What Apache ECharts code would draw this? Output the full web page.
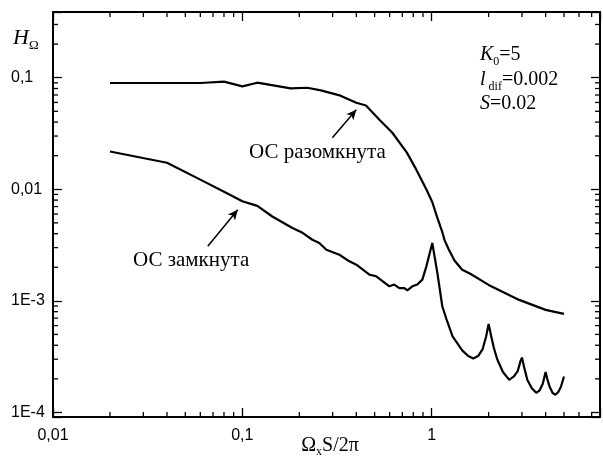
<!DOCTYPE html>
<html>
<head>
<meta charset="utf-8">
<script src="https://cdn.jsdelivr.net/npm/echarts@6/dist/echarts.min.js"></script>
<style>
html, body { margin: 0; padding: 0; background: #fff; }
#chart { width: 603px; height: 461px; }
</style>
</head>
<body>
<div id="chart"></div>
<script>
var xMin = 0.01, xMax = 7.75, yMin = 9.1e-5, yMax = 0.388;
var xTickValues = [0.01, 0.1, 1];
var xTickLabels = ['0,01', '0,1', '1'];
var yTickValues = [1e-4, 1e-3, 0.01, 0.1];
var yTickLabels = ['1E-4', '1E-3', '0,01', '0,1'];
var xMinorTicks = [0.02, 0.03, 0.04, 0.05, 0.06, 0.07, 0.08, 0.09,
	0.2, 0.3, 0.4, 0.5, 0.6, 0.7, 0.8, 0.9, 2, 3, 4, 5, 6, 7];
var yMinorTicks = [2e-4, 3e-4, 4e-4, 5e-4, 6e-4, 7e-4, 8e-4, 9e-4,
	0.002, 0.003, 0.004, 0.005, 0.006, 0.007, 0.008, 0.009,
	0.02, 0.03, 0.04, 0.05, 0.06, 0.07, 0.08, 0.09, 0.2, 0.3];

// ОС разомкнута
var openX = [0.02, 0.04, 0.06, 0.08, 0.1, 0.12, 0.18, 0.22, 0.26, 0.33,
	0.40, 0.45, 0.53, 0.62, 0.74, 0.83, 0.94, 1.01, 1.07, 1.14,
	1.17, 1.23, 1.32, 1.45, 1.6, 2.0, 2.9, 4.0, 5.0];
var openY = [0.0896, 0.0896, 0.0896, 0.0921, 0.0835, 0.0902, 0.0802, 0.0813, 0.0769, 0.069,
	0.0597, 0.0564, 0.042, 0.0321, 0.0213, 0.015, 0.0099, 0.0076, 0.0056, 0.0041,
	0.0035, 0.0029, 0.0023, 0.0019, 0.00175, 0.00139, 0.00102, 0.00083, 0.000765];
// ОС замкнута
var closedX = [0.02, 0.04, 0.06, 0.082, 0.1, 0.12, 0.144, 0.184, 0.208, 0.2345,
	0.255, 0.278, 0.3256, 0.3677, 0.4003, 0.469, 0.51, 0.598, 0.635, 0.675,
	0.718, 0.744, 0.791, 0.84, 0.893, 0.938, 1.008, 1.072, 1.139, 1.2,
	1.29, 1.45, 1.56, 1.66, 1.76, 1.86, 1.94, 2.0, 2.06, 2.13,
	2.22, 2.38, 2.57, 2.72, 2.85, 2.95, 3.0, 3.07, 3.2, 3.38,
	3.57, 3.72, 3.86, 4.0, 4.08, 4.2, 4.35, 4.5, 4.66, 4.82, 5.0];
var closedY = [0.0218, 0.0173, 0.0122, 0.0093, 0.0078, 0.0071, 0.0057, 0.0045, 0.00407, 0.00353,
	0.0033, 0.00287, 0.00259, 0.00226, 0.00211, 0.00172, 0.00166, 0.00135, 0.0014, 0.0013,
	0.0013, 0.00124, 0.00135, 0.0014, 0.00155, 0.00204, 0.0033, 0.00178, 0.00089, 0.00068,
	0.00048, 0.00036, 0.00032, 0.000305, 0.00032, 0.00037, 0.00048, 0.00062, 0.00049, 0.00038,
	0.0003, 0.00023, 0.000196, 0.00021, 0.000235, 0.00029, 0.00031, 0.00026, 0.000196, 0.000165,
	0.00015, 0.000158, 0.00018, 0.00023, 0.0002, 0.00017, 0.00015, 0.000144, 0.000152, 0.00017, 0.00021];

// стрелки подписей
var arrowOpen = [[0.299, 0.029], [0.40, 0.0517]];
var arrowClosed = [[0.0657, 0.00308], [0.0946, 0.00656]];

var serif = 'Liberation Serif';
var sans = 'Liberation Sans';

function zip(xs, ys) {
	var out = [];
	for(var i = 0; i < xs.length; i++) {
		out.push([xs[i], ys[i]]);
	}
	return out;
}

function tickLabel(vals, labels) {
	return function(v) {
		for(var i = 0; i < vals.length; i++) {
			if(Math.abs(Math.log10(v) - Math.log10(vals[i])) < 1e-6) {
				return labels[i];
			}
		}
		return '';
	};
}

function logAxis(pos, min, max, showLabel, fmt, extra) {
	var a = {
		type: 'log',
		logBase: 10,
		position: pos,
		min: min,
		max: max,
		splitLine: { show: false },
		axisLine: { show: true, onZero: false, lineStyle: { color: '#000', width: 2 } },
		axisTick: { show: true, inside: true, length: 9, lineStyle: { color: '#000', width: 1.3 } },
		axisLabel: { show: showLabel, formatter: fmt, color: '#000', fontFamily: sans, fontSize: 16 }
	};
	if(extra) {
		a.axisLabel = Object.assign(a.axisLabel, extra);
	}
	return a;
}

function arrowLine(pts) {
	return {
		silent: true,
		symbol: ['none', 'arrow'],
		symbolSize: [7, 10],
		label: { show: false },
		lineStyle: { color: '#000', width: 1.5, type: 'solid' },
		data: [[{ coord: pts[0] }, { coord: pts[1] }]]
	};
}

function minorTickSeries(vals, isX) {
	return {
		type: 'custom',
		silent: true,
		xAxisIndex: 0,
		yAxisIndex: 0,
		data: vals.map(function(v) { return isX ? [v, yMin] : [xMin, v]; }),
		renderItem: function(params, api) {
			var v = api.value(isX ? 0 : 1);
			var p1, p2;
			var st = { stroke: '#000', lineWidth: 1.3 };
			if(isX) {
				p1 = api.coord([v, yMin]);
				p2 = api.coord([v, yMax]);
				return { type: 'group', children: [
					{ type: 'line', shape: { x1: p1[0], y1: p1[1], x2: p1[0], y2: p1[1] - 5 }, style: st },
					{ type: 'line', shape: { x1: p2[0], y1: p2[1], x2: p2[0], y2: p2[1] + 5 }, style: st }
				] };
			}
			p1 = api.coord([xMin, v]);
			p2 = api.coord([xMax, v]);
			return { type: 'group', children: [
				{ type: 'line', shape: { x1: p1[0], y1: p1[1], x2: p1[0] + 5, y2: p1[1] }, style: st },
				{ type: 'line', shape: { x1: p2[0], y1: p2[1], x2: p2[0] - 5, y2: p2[1] }, style: st }
			] };
		}
	};
}

function txt(x, y, text, rich, align) {
	return {
		type: 'text',
		x: x,
		y: y,
		silent: true,
		style: {
			text: text,
			rich: rich,
			fill: '#000',
			align: align || 'left',
			verticalAlign: 'middle'
		}
	};
}

var mainStyle = { fontFamily: serif, fontSize: 21, lineHeight: 24 };
var italStyle = { fontFamily: serif, fontSize: 20, fontStyle: 'italic', lineHeight: 26 };
var numStyle = { fontFamily: serif, fontSize: 20, lineHeight: 26 };
var subStyle = { fontFamily: serif, fontSize: 12, lineHeight: 6, verticalAlign: 'bottom' };

var chart = echarts.init(document.getElementById('chart'));
chart.setOption({
	animation: false,
	backgroundColor: '#fff',
	grid: { left: 53, right: 3, top: 12, bottom: 44 },
	xAxis: [
		logAxis('bottom', xMin, xMax, true, tickLabel(xTickValues, xTickLabels), { margin: 11 }),
		logAxis('top', xMin, xMax, false)
	],
	yAxis: [
		logAxis('left', yMin, yMax, true, tickLabel(yTickValues, yTickLabels), { margin: 42, align: 'left' }),
		logAxis('right', yMin, yMax, false)
	],
	series: [
		{
			type: 'line',
			data: zip(openX, openY),
			symbol: 'none',
			lineStyle: { color: '#000', width: 2.2 },
			itemStyle: { color: '#000' },
			markLine: arrowLine(arrowOpen)
		},
		{
			type: 'line',
			data: zip(closedX, closedY),
			symbol: 'none',
			lineStyle: { color: '#000', width: 2.2 },
			itemStyle: { color: '#000' },
			markLine: arrowLine(arrowClosed)
		},
		minorTickSeries(xMinorTicks, true),
		minorTickSeries(yMinorTicks, false)
	],
	graphic: [
		txt(249, 152, '{m|ОС разомкнута}', { m: mainStyle }),
		txt(133, 260, '{m|ОС замкнута}', { m: mainStyle }),
		txt(480, 55, '{i|K}{s|0}{n|=5}', { i: italStyle, s: subStyle, n: numStyle }),
		txt(480, 80, '{i|l}{s| dif}{n|=0.002}', { i: italStyle, s: subStyle, n: numStyle }),
		txt(480, 104, '{i|S}{n|=0.02}', { i: italStyle, n: numStyle }),
		txt(13, 38, '{i|H}{s|Ω}', {
			i: { fontFamily: serif, fontSize: 22, fontStyle: 'italic', lineHeight: 28 },
			s: { fontFamily: serif, fontSize: 13, lineHeight: 8, verticalAlign: 'bottom' }
		}),
		txt(330, 446, '{a|Ω}{s|x}{a|S/2π}', {
			a: { fontFamily: serif, fontSize: 20, lineHeight: 24 },
			s: { fontFamily: serif, fontSize: 12, lineHeight: 6, verticalAlign: 'bottom' }
		}, 'center')
	]
});
</script>
</body>
</html>
